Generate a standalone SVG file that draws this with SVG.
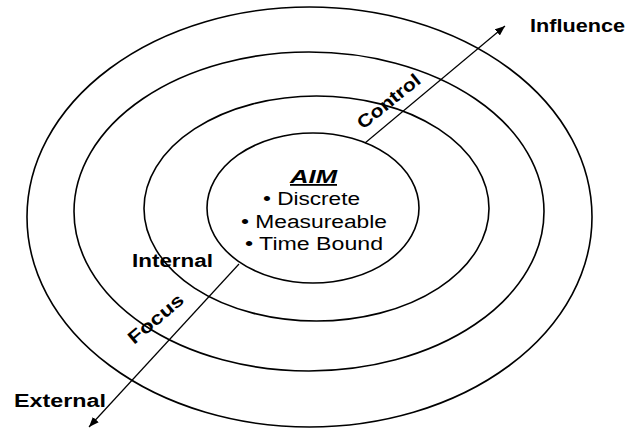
<svg xmlns="http://www.w3.org/2000/svg" width="631" height="430" viewBox="0 0 631 430">
  <defs>
    <marker id="ah" viewBox="0 0 10 8" refX="10" refY="4" markerWidth="10" markerHeight="8" markerUnits="userSpaceOnUse" orient="auto">
      <path d="M0,0 L10,4 L0,8 Z" fill="#000"/>
    </marker>
    <style>
      .ring { fill: none; stroke: #000; stroke-width: 1.6; }
      .conn { fill: none; stroke: #000; stroke-width: 1.2; marker-end: url(#ah); }
      .t { font-family: "Liberation Sans", Arial, sans-serif; font-size: 18px; fill: #000; }
      .b { font-weight: bold; }
    </style>
  </defs>
  <rect width="631" height="430" fill="#fff"/>
  <g id="ring-influence"><ellipse class="ring" cx="309.5" cy="217" rx="282.5" ry="210"/></g>
  <g id="ring-control"><ellipse class="ring" cx="309" cy="211.5" rx="235" ry="159.5"/></g>
  <g id="ring-focus"><ellipse class="ring" cx="316.5" cy="208.5" rx="172.5" ry="112.5"/></g>
  <g id="aim">
    <ellipse class="ring" cx="313" cy="208" rx="106" ry="75"/>
    <text class="t b" x="290" y="183" font-size="20" font-style="italic" text-decoration="underline" textLength="47" lengthAdjust="spacingAndGlyphs">AIM</text>
    <text class="t" x="263" y="205" textLength="97" lengthAdjust="spacingAndGlyphs">• Discrete</text>
    <text class="t" x="241" y="228" textLength="146" lengthAdjust="spacingAndGlyphs">• Measureable</text>
    <text class="t" x="245" y="250" textLength="138" lengthAdjust="spacingAndGlyphs">• Time Bound</text>
  </g>
  <g id="connectors">
    <line class="conn" x1="365" y1="143" x2="505" y2="26"/>
    <line class="conn" x1="239" y1="264" x2="89" y2="427"/>
  </g>
  <g id="labels">
    <text class="t b" x="530" y="32" textLength="95" lengthAdjust="spacingAndGlyphs">Influence</text>
    <text class="t b" x="14" y="407" textLength="92" lengthAdjust="spacingAndGlyphs">External</text>
    <text class="t b" x="132" y="267" textLength="81" lengthAdjust="spacingAndGlyphs">Internal</text>
    <text class="t b" transform="translate(363,130) rotate(-39)" textLength="76" lengthAdjust="spacingAndGlyphs">Control</text>
    <text class="t b" transform="translate(134,345) rotate(-40)" textLength="67" lengthAdjust="spacingAndGlyphs">Focus</text>
  </g>
</svg>
